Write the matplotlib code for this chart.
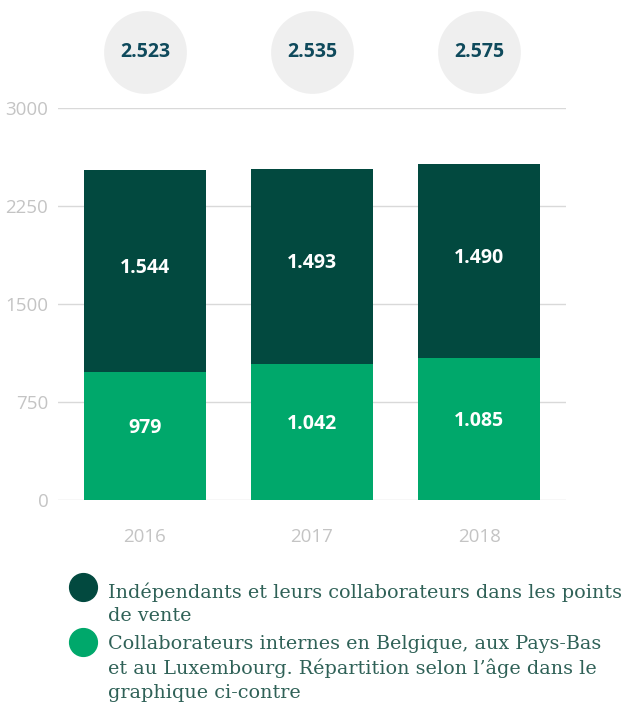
import matplotlib.pyplot as plt

years = ["2016", "2017", "2018"]
internes = [979, 1042, 1085]
independants = [1544, 1493, 1490]
totals = [2523, 2535, 2575]
yticks = [0, 750, 1500, 2250, 3000]
legend_labels = [
    "Indépendants et leurs collaborateurs dans les points\nde vente",
    "Collaborateurs internes en Belgique, aux Pays-Bas\net au Luxembourg. Répartition selon l\u2019âge dans le\ngraphique ci-contre",
]

dark = "#02493f"
green = "#00a86b"
W, H = 622, 706

fig = plt.figure(figsize=(W / 100, H / 100), dpi=100)
ax = fig.add_axes([58 / W, 206 / H, (566 - 58) / W, (500 - 108) / H])

x = range(len(years))
ax.bar(x, internes, width=0.73, color=green, zorder=3)
ax.bar(x, independants, width=0.73, bottom=internes, color=dark, zorder=3)

ax.set_xlim(-0.52, 2.52)
ax.set_ylim(0, 3000)
ax.set_yticks(yticks)
ax.set_xticks(list(x))
ax.set_xticklabels(years)
ax.grid(axis="y", color="#d9d9d9", lw=1, zorder=0)
for s in ax.spines.values():
    s.set_visible(False)
ax.tick_params(length=0, colors="#c4c4c4", labelsize=13.5)
ax.tick_params(axis="y", pad=7)
ax.tick_params(axis="x", pad=20)
for lab in ax.get_xticklabels() + ax.get_yticklabels():
    lab.set_fontfamily("Open Sans")

def fmt(v):
    return f"{v:,}".replace(",", ".")

for i in x:
    ax.text(i, internes[i] / 2 + 60, fmt(internes[i]), ha="center", va="center",
            color="white", fontsize=14, fontweight="bold", family="Open Sans", zorder=4)
    ax.text(i, internes[i] + independants[i] / 2 + 25, fmt(independants[i]), ha="center",
            va="center", color="white", fontsize=14, fontweight="bold", family="Open Sans", zorder=4)

# total bubbles above the bars
ax.scatter(list(x), [3429] * 3, s=3550, color="#efefef", clip_on=False, zorder=3, linewidths=0)
for i in x:
    ax.text(i, 3429, fmt(totals[i]), ha="center", va="center", color="#0f4a5c",
            fontsize=14, fontweight="bold", family="Open Sans", clip_on=False)

# legend
lx = 83 / W
for (yc, top, col, lab) in [(587, 582, dark, legend_labels[0]), (642, 635, green, legend_labels[1])]:
    fig.add_artist(plt.Line2D([lx], [1 - yc / H], marker="o", markersize=20,
                              color=col, linestyle="none"))
    fig.text(108 / W, 1 - top / H, lab, ha="left", va="top", color="#2f6157",
             fontsize=13.8, family="DejaVu Serif", linespacing=1.38)

fig.savefig("out.png", dpi=100)
